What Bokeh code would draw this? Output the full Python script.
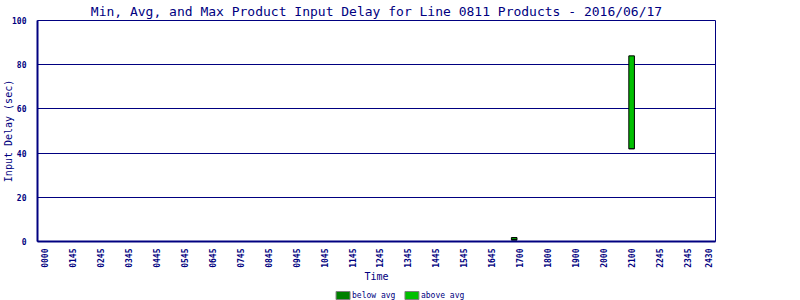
import math
from bokeh.plotting import figure
from bokeh.layouts import column
from bokeh.models import FixedTicker, Range1d, ColumnDataSource
from bokeh.core.properties import value
from bokeh.embed import file_html
from bokeh.resources import INLINE

# ---- data ----
time_labels = ["0000", "0145", "0245", "0345", "0445", "0545", "0645", "0745",
               "0845", "0945", "1045", "1145", "1245", "1345", "1445", "1545",
               "1645", "1700", "1800", "1900", "2000", "2100", "2245", "2345", "2430"]
tick_positions = list(range(24)) + [23.75]

bar_slot = [16.8, 21.0]
min_delay = [0.6, 42.0]
avg_delay = [1.0, 42.0]
max_delay = [1.8, 84.0]

y_ticks = [0, 20, 40, 60, 80, 100]
legend_labels = ["below avg", "above avg"]

NAVY = "#000080"
DARK_GREEN = "#008000"
BRIGHT_GREEN = "#00C000"
legend_colors = [DARK_GREEN, BRIGHT_GREEN]
MONO = "DejaVu Sans Mono"

p = figure(width=800, height=284, output_backend="svg", toolbar_location=None,
           x_range=Range1d(-0.25, 24.0), y_range=Range1d(0, 100),
           min_border_left=36, min_border_right=85, min_border_top=20,
           min_border_bottom=42, background_fill_color="white",
           border_fill_color="white")

p.title.text = "Min, Avg, and Max Product Input Delay for Line 0811 Products - 2016/06/17"
p.title.align = "center"
p.title.text_color = NAVY
p.title.text_font = MONO
p.title.text_font_size = "13px"
p.title.text_font_style = "normal"
p.title.standoff = 3

p.outline_line_color = NAVY
p.outline_line_width = 1

# axes
p.xaxis.ticker = FixedTicker(ticks=tick_positions)
p.xaxis.major_label_overrides = {pos: lab for pos, lab in zip(tick_positions, time_labels)}
p.xaxis.major_label_orientation = math.pi / 2
p.yaxis.ticker = FixedTicker(ticks=y_ticks)

for ax in (p.xaxis, p.yaxis):
    ax.axis_line_color = NAVY
    ax.axis_line_width = 2
    ax.major_tick_line_color = None
    ax.minor_tick_line_color = None
    ax.major_label_text_color = NAVY
    ax.major_label_text_font = MONO
    ax.major_label_text_font_size = "8px"
    ax.major_label_text_font_style = "bold"
    ax.axis_label_text_color = NAVY
    ax.axis_label_text_font = MONO
    ax.axis_label_text_font_size = "10px"
    ax.axis_label_text_font_style = "normal"

p.yaxis.major_label_standoff = 5
p.xaxis.major_label_standoff = 1
p.xaxis.axis_label_standoff = 0
p.yaxis.axis_label_standoff = -5

p.xaxis.axis_label = "Time"
p.yaxis.axis_label = "Input Delay (sec)"

p.xgrid.grid_line_color = None
p.ygrid.grid_line_color = NAVY
p.ygrid.grid_line_width = 1
p.ygrid.grid_line_alpha = 1

src = ColumnDataSource(dict(x=bar_slot, lo=min_delay, mid=avg_delay, hi=max_delay))
p.vbar(x="x", bottom="lo", top="mid", width=0.2, source=src,
       fill_color=DARK_GREEN, line_color="black", line_width=1)
p.vbar(x="x", bottom="mid", top="hi", width=0.2, source=src,
       fill_color=BRIGHT_GREEN, line_color="black", line_width=1)

# ---- legend strip below the chart (x in page pixels; frame aligned 36..715) ----
lg = figure(width=800, height=16, output_backend="svg", toolbar_location=None,
            x_range=Range1d(36, 715), y_range=Range1d(16, 0),
            x_axis_type=None, y_axis_type=None,
            min_border_left=36, min_border_right=85, min_border_top=0,
            min_border_bottom=0, outline_line_color=None,
            background_fill_color="white", border_fill_color="white")
lg.xgrid.grid_line_color = None
lg.ygrid.grid_line_color = None
item_step = 69
first_swatch = 342
sw_x = [first_swatch + i * item_step for i in range(len(legend_labels))]
lab_x = [x + 9 for x in sw_x]
row_y = [11] * len(legend_labels)
lsrc = ColumnDataSource(dict(sx=sw_x, lx=lab_x, y=row_y, color=legend_colors,
                             label=legend_labels))
lg.rect(x="sx", y="y", width=14, height=8, source=lsrc, fill_color="color",
        line_color="#808080", line_width=1)
lg.text(x="lx", y="y", text="label", source=lsrc, text_color=NAVY,
        text_font=value(MONO), text_font_size="8px", text_baseline="middle",
        text_align="left")

layout = column(p, lg, spacing=0)
open("out.html", "w").write(file_html(layout, INLINE))
